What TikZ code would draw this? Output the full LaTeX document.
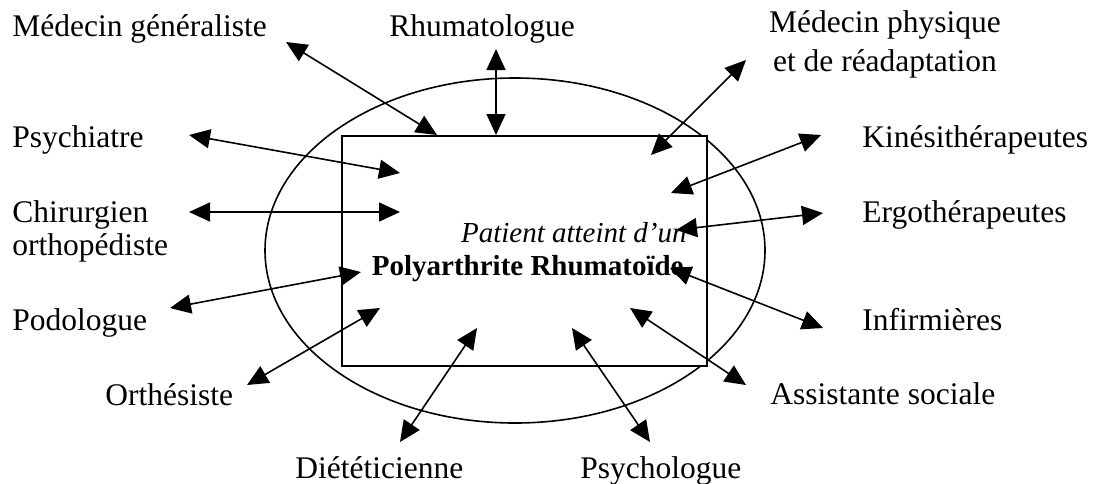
\documentclass[tikz,border=0pt]{standalone}
\usepackage{fontspec}
\setmainfont{Liberation Serif}
\usetikzlibrary{arrows.meta,shapes.geometric}
\tikzset{
  lbl/.style={anchor=base west, inner sep=0pt, font=\fontsize{15.75}{16.5}\selectfont},
  link/.style={line width=0.8pt, {Triangle[length=10.5pt,width=9.5pt]}-{Triangle[length=10.5pt,width=9.5pt]}},
  boxtxt/.style={anchor=base east, inner sep=0pt, font=\fontsize{14.5}{16}\selectfont},
}
\begin{document}
\begin{tikzpicture}[x=0.5pt,y=-0.5pt]
\useasboundingbox (0,0) rectangle (1096,483);
% ellipse and box
\node[draw, ellipse, line width=0.8pt, minimum width=250pt, minimum height=172.5pt, inner sep=0pt] (ell) at (515,250.5) {};
\node[draw, rectangle, fill=white, line width=0.9pt, minimum width=182.5pt, minimum height=115pt, inner sep=0pt] (box) at (524.5,251) {};
\node[boxtxt, font=\fontsize{14.5}{16}\selectfont\itshape] (pat) at (687,242) {Patient atteint d’un};
\node[boxtxt, font=\fontsize{14.5}{16}\selectfont\bfseries] (pr) at (684,275) {Polyarthrite Rhumatoïde};
% labels
\node[lbl] (mg) at (12,36) {Médecin généraliste};
\node[lbl] (rh) at (389,36) {Rhumatologue};
\node[anchor=base, inner sep=0pt, align=center, font=\fontsize{15.75}{19.5}\selectfont] (mpr) at (885,71) {Médecin physique\\et de réadaptation};
\node[lbl] (psy) at (12,147) {Psychiatre};
\node[lbl, align=left] (chir) at (12,255) {Chirurgien\\orthopédiste};
\node[lbl] (kine) at (862,147) {Kinésithérapeutes};
\node[lbl] (ergo) at (862,222) {Ergothérapeutes};
\node[lbl] (podo) at (12,330) {Podologue};
\node[lbl] (inf) at (862,330) {Infirmières};
\node[lbl] (orth) at (105,405) {Orthésiste};
\node[lbl] (assist) at (770,404) {Assistante sociale};
\node[lbl] (diet) at (295,478) {Diététicienne};
\node[lbl] (psycho) at (580,478) {Psychologue};
% arrow ends
\coordinate (mgA) at (286,42);   \coordinate (mgB) at (437,135);
\coordinate (rhA) at (496,49);   \coordinate (rhB) at (496,135);
\coordinate (mprA) at (746,60);  \coordinate (mprB) at (651,155);
\coordinate (psyA) at (189,135); \coordinate (psyB) at (400,173);
\coordinate (chirA) at (189,212);\coordinate (chirB) at (400,212);
\coordinate (kineA) at (821,135);\coordinate (kineB) at (671,193);
\coordinate (ergoA) at (823,213);\coordinate (ergoB) at (676,230);
\coordinate (podoA) at (170,308);\coordinate (podoB) at (361,272);
\coordinate (infA) at (823,328); \coordinate (infB) at (670,268);
\coordinate (orthA) at (247,385);\coordinate (orthB) at (380,308);
\coordinate (assA) at (746,385); \coordinate (assB) at (630,308);
\coordinate (dietA) at (400,442);\coordinate (dietB) at (477,328);
\coordinate (psyhA) at (650,442);\coordinate (psyhB) at (572,328);
% arrows
\draw[link] (mgA) -- (mgB);
\draw[link] (rhA) -- (rhB);
\draw[link] (mprA) -- (mprB);
\draw[link] (psyA) -- (psyB);
\draw[link] (chirA) -- (chirB);
\draw[link] (kineA) -- (kineB);
\draw[link] (ergoA) -- (ergoB);
\draw[link] (podoA) -- (podoB);
\draw[link] (infA) -- (infB);
\draw[link] (orthA) -- (orthB);
\draw[link] (assA) -- (assB);
\draw[link] (dietA) -- (dietB);
\draw[link] (psyhA) -- (psyhB);
\end{tikzpicture}
\end{document}
